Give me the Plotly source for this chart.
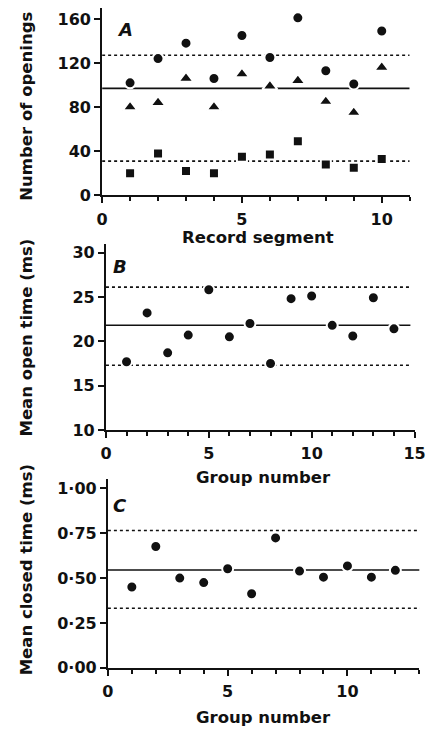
import plotly.graph_objects as go

# ---- Panel A: number of openings per record segment ----
a_segments = [1, 2, 3, 4, 5, 6, 7, 8, 9, 10]
a_circles = [102, 124, 138, 106, 145, 125, 161, 113, 101, 149]
a_triangles = [80, 84, 106, 80, 110, 99, 104, 85, 75, 116]
a_squares = [20, 38, 22, 20, 35, 37, 49, 28, 25, 33]
a_mean, a_upper, a_lower = 97, 127, 31

# ---- Panel B: mean open time per group ----
b_groups = [1, 2, 3, 4, 5, 6, 7, 8, 9, 10, 11, 12, 13, 14]
b_open = [17.7, 23.2, 18.7, 20.7, 25.8, 20.5, 22.0, 17.5, 24.8, 25.1, 21.8, 20.6, 24.9, 21.4]
b_mean, b_upper, b_lower = 21.8, 26.1, 17.3

# ---- Panel C: mean closed time per group ----
c_groups = [1, 2, 3, 4, 5, 6, 7, 8, 9, 10, 11, 12]
c_closed = [0.45, 0.676, 0.50, 0.475, 0.552, 0.413, 0.724, 0.539, 0.505, 0.568, 0.505, 0.543]
c_mean, c_upper, c_lower = 0.545, 0.765, 0.332
c_tickvals = [0, 0.25, 0.5, 0.75, 1.0]
c_ticktext = ["0·00", "0·25", "0·50", "0·75", "1·00"]

INK = "#111111"
FONT = "DejaVu Sans"
W, H = 438, 736

fig = go.Figure()

def hline(xa, ya, x0, x1, y, dash):
    fig.add_trace(go.Scatter(x=[x0, x1], y=[y, y], mode="lines", xaxis=xa, yaxis=ya,
                             line=dict(color=INK, width=1.6, dash=dash),
                             hoverinfo="skip", showlegend=False))

def pts(xa, ya, x, y, symbol, size):
    fig.add_trace(go.Scatter(x=x, y=y, mode="markers", xaxis=xa, yaxis=ya,
                             marker=dict(symbol=symbol, size=size, color=INK,
                                         line=dict(color="white", width=2)),
                             showlegend=False))

DOTS = "3px,3px"
# Panel A
hline("x", "y", 0, 11, a_upper, DOTS)
hline("x", "y", 0, 11, a_lower, DOTS)
hline("x", "y", 0, 11, a_mean, "solid")
pts("x", "y", a_segments, a_circles, "circle", 11)
pts("x", "y", a_segments, a_triangles, "triangle-up", 13)
pts("x", "y", a_segments, a_squares, "square", 10)
# Panel B
hline("x2", "y2", 0, 14.8, b_upper, DOTS)
hline("x2", "y2", 0, 14.8, b_lower, DOTS)
hline("x2", "y2", 0, 14.8, b_mean, "solid")
pts("x2", "y2", b_groups, b_open, "circle", 11)
# Panel C
hline("x3", "y3", 0, 13.1, c_upper, DOTS)
hline("x3", "y3", 0, 13.1, c_lower, DOTS)
hline("x3", "y3", 0, 13.1, c_mean, "solid")
pts("x3", "y3", c_groups, c_closed, "circle", 11)

TICKFONT = dict(family=FONT, size=16, color=INK, weight="bold")

def xax(domain, rng, anchor):
    return dict(domain=domain, range=rng, anchor=anchor, showgrid=False, zeroline=False,
                showline=True, linecolor=INK, linewidth=2, ticks="outside", ticklen=6,
                tickwidth=2, tickcolor=INK, dtick=5, tick0=0, ticklabelstandoff=2,
                minor=dict(dtick=1, ticks="outside", ticklen=4, tickwidth=1.5, tickcolor=INK),
                tickfont=TICKFONT, fixedrange=True)

def yax(domain, rng, anchor, **kw):
    d = dict(domain=domain, range=rng, anchor=anchor, showgrid=False, zeroline=False,
             showline=True, linecolor=INK, linewidth=2, ticks="outside", ticklen=6,
             tickwidth=2, tickcolor=INK, tickfont=TICKFONT, fixedrange=True)
    d.update(kw)
    return d

def px_x(p):
    return p / W

def px_y(p):
    return 1 - p / H

fig.update_layout(
    width=W, height=H, margin=dict(l=0, r=0, t=0, b=0),
    paper_bgcolor="white", plot_bgcolor="white", showlegend=False,
    xaxis=xax([px_x(100), px_x(420)], [0, 11], "y"),
    yaxis=yax([px_y(198), px_y(8)], [0, 170], "x", dtick=40, tick0=0),
    xaxis2=xax([px_x(104), px_x(425)], [0, 15], "y2"),
    yaxis2=yax([px_y(436), px_y(247)], [10, 31], "x2", dtick=5, tick0=10),
    xaxis3=xax([px_x(106), px_x(430)], [0, 13], "y3"),
    yaxis3=yax([px_y(677), px_y(486)], [0, 1.05], "x3", tickmode="array",
               tickvals=c_tickvals, ticktext=c_ticktext),
)

def label(text, x, y, angle=0, size=16.5, italic=False):
    fig.add_annotation(text=text, x=px_x(x), y=px_y(y), xref="paper", yref="paper",
                       showarrow=False, textangle=angle, xanchor="center", yanchor="middle",
                       font=dict(family=FONT, size=size, color=INK, weight="bold",
                                 style="italic" if italic else "normal"))

label("Number of openings", 21, 108, -90)
label("Mean open time (ms)", 21, 342, -90)
label("Mean closed time (ms)", 21, 578, -90)
label("Record segment", 262, 241)
label("Group number", 268, 484)
label("Group number", 268, 727)
label("A", 124, 30, italic=True, size=18)
label("B", 119, 270, italic=True, size=18)
label("C", 119, 512, italic=True, size=18)

fig.write_html("out.html")
